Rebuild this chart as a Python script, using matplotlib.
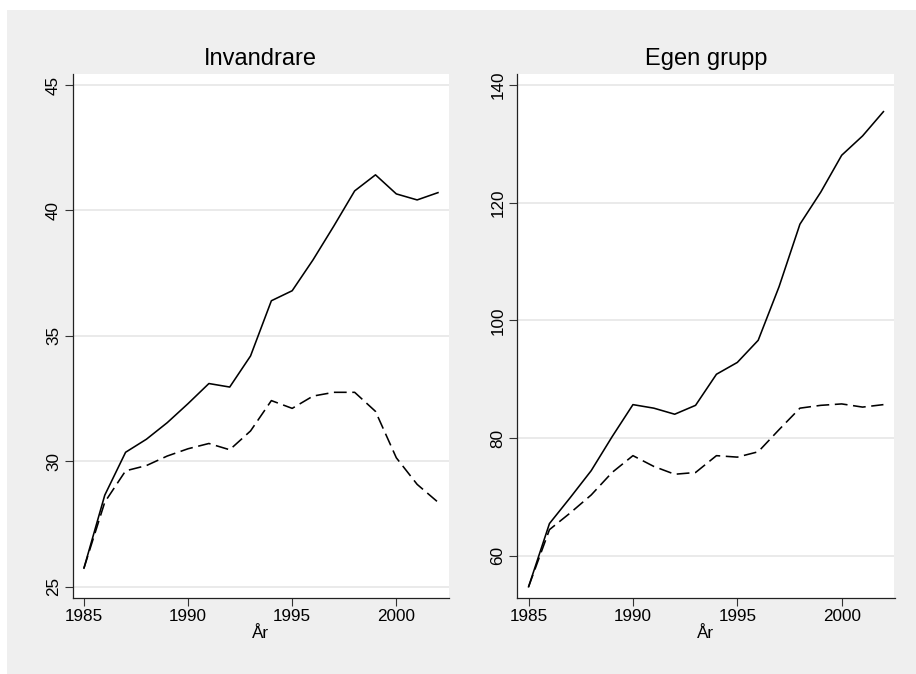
import matplotlib.pyplot as plt
from matplotlib.patches import Rectangle

plt.rcParams['font.family'] = ['Liberation Sans', 'DejaVu Sans']

years = list(range(1985, 2003))

# Invandrare
inv_solid = [25.74, 28.65, 30.36, 30.88, 31.54, 32.30, 33.10, 32.96, 34.20,
             36.40, 36.80, 38.03, 39.38, 40.78, 41.42, 40.66, 40.42, 40.71]
inv_dash = [25.74, 28.37, 29.62, 29.83, 30.21, 30.50, 30.71, 30.46, 31.21,
            32.42, 32.11, 32.60, 32.75, 32.75, 31.99, 30.14, 29.08, 28.37]

# Egen grupp
egen_solid = [54.72, 65.46, 69.89, 74.45, 80.21, 85.67, 85.07, 84.04, 85.55,
              90.83, 92.84, 96.60, 105.71, 116.33, 121.79, 128.04, 131.32, 135.45]
egen_dash = [54.72, 64.43, 67.28, 70.32, 74.14, 77.00, 75.17, 73.84, 74.14,
             77.00, 76.75, 77.66, 81.42, 85.07, 85.55, 85.79, 85.25, 85.67]

titles = ["Invandrare", "Egen grupp"]
xticks = [1985, 1990, 1995, 2000]
yticks_inv = [25, 30, 35, 40, 45]
yticks_egen = [60, 80, 100, 120, 140]

W, H = 916, 674
fig = plt.figure(figsize=(W / 100, H / 100), dpi=100, facecolor="white")
# grey graph region (Stata style)
fig.patches.append(Rectangle((7 / W, 0), 1 - 7 / W, (H - 10) / H,
                             transform=fig.transFigure, facecolor="#efefef",
                             edgecolor="none", zorder=-10))

ax1 = fig.add_axes([72.7 / W, (H - 597.5) / H, 376.3 / W, 524 / H])
ax2 = fig.add_axes([517.3 / W, (H - 597.5) / H, 377.2 / W, 524 / H])

panels = [
    (ax1, inv_solid, inv_dash, yticks_inv, (24.57, 45.46)),
    (ax2, egen_solid, egen_dash, yticks_egen, (52.9, 141.93)),
]

for i, (ax, solid, dash, yt, ylim) in enumerate(panels):
    ax.set_facecolor("white")
    ax.plot(years, solid, color="black", lw=1.15)
    ax.plot(years, dash, color="black", lw=1.15, dashes=(8, 3.5))
    ax.set_xlim(1984.46, 2002.53)
    ax.set_ylim(*ylim)
    ax.set_xticks(xticks)
    ax.set_yticks(yt)
    ax.grid(axis="y", color="#e8e8e8", lw=1.3)
    ax.set_axisbelow(True)
    for s in ["top", "right"]:
        ax.spines[s].set_visible(False)
    for s in ["left", "bottom"]:
        ax.spines[s].set_color("#222222")
        ax.spines[s].set_linewidth(0.9)
    ax.tick_params(direction="out", length=5.5, width=0.8, color="#333333",
                   labelsize=12.3, pad=3)
    ax.tick_params(axis="y", labelrotation=90, pad=3)
    for lab in ax.get_yticklabels():
        lab.set_va("center")
    ax.set_xlabel("År", fontsize=12.3, labelpad=1)
    ax.set_title(titles[i], fontsize=17, pad=6)

fig.savefig("out.png", dpi=100, facecolor=fig.get_facecolor())
